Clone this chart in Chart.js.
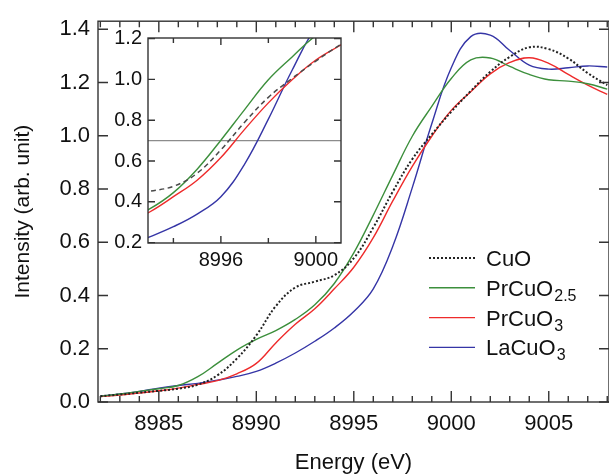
<!DOCTYPE html>
<html>
<head>
<meta charset="utf-8">
<script src="https://cdn.jsdelivr.net/npm/chart.js@4.4.1/dist/chart.umd.min.js"></script>
<style>
  body { margin: 0; background: #fff; }
  #wrap { position: relative; width: 609px; height: 474px; overflow: hidden; }
  #mainChart { position: absolute; left: 0; top: 0; }
  #insetChart { position: absolute; left: 100px; top: 20px; }
</style>
</head>
<body>
<div id="wrap">
  <canvas id="mainChart" width="609" height="474"></canvas>
  <canvas id="insetChart" width="250" height="256"></canvas>
</div>
<script>
// energy grid (eV) and normalised intensities
const energy = [8982, 8983, 8984, 8985, 8986, 8987, 8988, 8989, 8990, 8991,
                8992, 8993, 8994, 8995, 8996, 8997, 8998, 8999, 9000, 9001,
                9002, 9003, 9004, 9005, 9006, 9007, 9008];
const cuo     = [0.022, 0.028, 0.035, 0.042, 0.050, 0.065, 0.100, 0.163, 0.250, 0.360,
                 0.430, 0.452, 0.476, 0.540, 0.655, 0.790, 0.912, 1.005, 1.090, 1.168,
                 1.240, 1.296, 1.332, 1.325, 1.290, 1.235, 1.190];
const prcuo25 = [0.022, 0.030, 0.040, 0.050, 0.062, 0.095, 0.145, 0.195, 0.235, 0.268,
                 0.310, 0.365, 0.445, 0.560, 0.702, 0.852, 0.998, 1.110, 1.215, 1.285,
                 1.292, 1.260, 1.230, 1.210, 1.205, 1.195, 1.175];
const prcuo3  = [0.020, 0.026, 0.034, 0.042, 0.052, 0.066, 0.080, 0.106, 0.145, 0.222,
                 0.292, 0.350, 0.425, 0.506, 0.617, 0.755, 0.885, 0.998, 1.095, 1.165,
                 1.232, 1.275, 1.293, 1.272, 1.230, 1.190, 1.155];
const lacuo3  = [0.022, 0.030, 0.040, 0.052, 0.062, 0.070, 0.082, 0.096, 0.115, 0.146,
                 0.184, 0.228, 0.278, 0.340, 0.425, 0.585, 0.805, 1.045, 1.255, 1.372,
                 1.378, 1.320, 1.265, 1.250, 1.255, 1.262, 1.258];

const seriesNames = ['CuO', 'PrCuO', 'PrCuO', 'LaCuO'];
const seriesSubs  = ['', '2.5', '3', '3'];

const mainXTicks  = [8985, 8990, 8995, 9000, 9005];
const mainYTicks  = [0, 0.2, 0.4, 0.6, 0.8, 1.0, 1.2, 1.4];
const insetXTicks = [8996, 9000];
const insetYTicks = [0.2, 0.4, 0.6, 0.8, 1.0, 1.2];
const insetRefLine = 0.7;

const colors = ['#222222', '#3c8f3c', '#ee2b2b', '#3535a6'];
const FONT = "'Liberation Sans', Arial, Helvetica, sans-serif";

function makeSets(inset) {
  return [cuo, prcuo25, prcuo3, lacuo3].map((vals, i) => ({
    data: energy.map((e, k) => ({ x: e, y: vals[k] })),
    borderColor: (i === 0 && inset) ? '#4a4a4a' : colors[i],
    borderDash: i === 0 ? (inset ? [5, 3.5] : [2, 2]) : [],
    borderWidth: i === 0 ? (inset ? 1.5 : 2) : 1.4,
    pointRadius: 0,
    tension: 0.4,
    fill: false
  }));
}

// box + inward tick marks on all four sides
function frameTicks(o) {
  return {
    id: 'frameTicks',
    beforeDatasetsDraw(chart) {
      if (!o.inset) return;
      const { ctx, chartArea: a, scales: { y } } = chart;
      ctx.save();
      ctx.fillStyle = '#fff';
      ctx.fillRect(a.left, a.top, a.right - a.left, a.bottom - a.top);
      const yy = y.getPixelForValue(insetRefLine);
      ctx.strokeStyle = '#8c8c8c';
      ctx.lineWidth = 1.2;
      ctx.beginPath();
      ctx.moveTo(a.left, yy);
      ctx.lineTo(a.right, yy);
      ctx.stroke();
      ctx.restore();
    },
    afterDatasetsDraw(chart) {
      const { ctx, chartArea: a, scales: { x, y } } = chart;
      ctx.save();
      ctx.setLineDash([]);
      ctx.strokeStyle = '#333';
      ctx.lineWidth = 1.4;
      ctx.strokeRect(a.left, a.top, a.right - a.left, a.bottom - a.top);
      ctx.beginPath();
      const start = Math.ceil(x.min / o.xStep) * o.xStep;
      for (let v = start; v <= x.max; v += o.xStep) {
        const px = x.getPixelForValue(v);
        const len = (v % o.xMajor === 0) ? o.majorLen : o.minorLen;
        ctx.moveTo(px, a.bottom); ctx.lineTo(px, a.bottom - len);
        ctx.moveTo(px, a.top); ctx.lineTo(px, a.top + len);
      }
      o.yTicks.forEach(v => {
        const py = y.getPixelForValue(v);
        ctx.moveTo(a.left, py); ctx.lineTo(a.left + o.yLen, py);
        ctx.moveTo(a.right, py); ctx.lineTo(a.right - o.yLen, py);
      });
      ctx.stroke();
      ctx.restore();
    }
  };
}

const legendPlugin = {
  id: 'subLegend',
  afterDraw(chart) {
    const ctx = chart.ctx;
    ctx.save();
    seriesNames.forEach((name, i) => {
      const yMid = 258 + i * 29.8;
      ctx.strokeStyle = colors[i];
      ctx.lineWidth = i === 0 ? 1.8 : 1.4;
      ctx.setLineDash(i === 0 ? [2, 2] : []);
      ctx.beginPath();
      ctx.moveTo(429, yMid);
      ctx.lineTo(475, yMid);
      ctx.stroke();
      ctx.setLineDash([]);
      ctx.fillStyle = '#111';
      ctx.textBaseline = 'alphabetic';
      ctx.font = '22px ' + FONT;
      ctx.fillText(name, 486, yMid + 8);
      if (seriesSubs[i]) {
        const w = ctx.measureText(name).width;
        ctx.font = '16px ' + FONT;
        ctx.fillText(seriesSubs[i], 486 + w + 1, yMid + 13);
      }
    });
    ctx.restore();
  }
};

new Chart(document.getElementById('mainChart'), {
  type: 'line',
  data: { datasets: makeSets(false) },
  options: {
    responsive: false,
    animation: false,
    layout: { padding: { top: 15, right: -4, left: 0, bottom: 0 } },
    plugins: { legend: { display: false }, tooltip: { enabled: false } },
    scales: {
      x: {
        type: 'linear', min: 8981.88, max: 9008.09,
        grid: { display: false, drawTicks: false }, border: { display: false },
        afterBuildTicks: s => { s.ticks = mainXTicks.map(v => ({ value: v })); },
        afterFit: s => { s.height = 72; },
        ticks: { font: { family: FONT, size: 22 }, color: '#111', padding: 9, maxRotation: 0,
                 callback: v => String(v) },
        title: { display: true, text: 'Energy (eV)', color: '#111', padding: 0,
                 font: { family: FONT, size: 22, lineHeight: 1 } }
      },
      y: {
        min: 0, max: 1.43,
        grid: { display: false, drawTicks: false }, border: { display: false },
        afterBuildTicks: s => { s.ticks = mainYTicks.map(v => ({ value: v })); },
        afterFit: s => { s.width = 98; },
        ticks: { font: { family: FONT, size: 22 }, color: '#111', padding: 8,
                 callback: v => v.toFixed(1) },
        title: { display: true, text: 'Intensity (arb. unit)', color: '#111',
                 padding: { top: 13, bottom: 0 },
                 font: { family: FONT, size: 21, lineHeight: 1 } }
      }
    }
  },
  plugins: [frameTicks({ xStep: 1, xMajor: 5, majorLen: 11, minorLen: 6,
                         yTicks: mainYTicks, yLen: 10 }), legendPlugin]
});

new Chart(document.getElementById('insetChart'), {
  type: 'line',
  data: { datasets: makeSets(true) },
  options: {
    responsive: false,
    animation: false,
    layout: { padding: { top: 14, right: 9, left: 0, bottom: 0 } },
    plugins: { legend: { display: false }, tooltip: { enabled: false } },
    scales: {
      x: {
        type: 'linear', min: 8992.93, max: 9001.06,
        grid: { display: false, drawTicks: false }, border: { display: false },
        afterBuildTicks: s => { s.ticks = insetXTicks.map(v => ({ value: v })); },
        afterFit: s => { s.height = 33; },
        ticks: { font: { family: FONT, size: 20 }, color: '#111', padding: 5, maxRotation: 0,
                 callback: v => String(v) }
      },
      y: {
        min: 0.198, max: 1.203,
        grid: { display: false, drawTicks: false }, border: { display: false },
        afterBuildTicks: s => { s.ticks = insetYTicks.map(v => ({ value: v })); },
        afterFit: s => { s.width = 48; },
        ticks: { font: { family: FONT, size: 20 }, color: '#111', padding: 6,
                 callback: v => v.toFixed(1) }
      }
    }
  },
  plugins: [frameTicks({ inset: true, xStep: 2, xMajor: 4, majorLen: 7, minorLen: 5,
                         yTicks: insetYTicks, yLen: 7 })]
});
</script>
</body>
</html>
